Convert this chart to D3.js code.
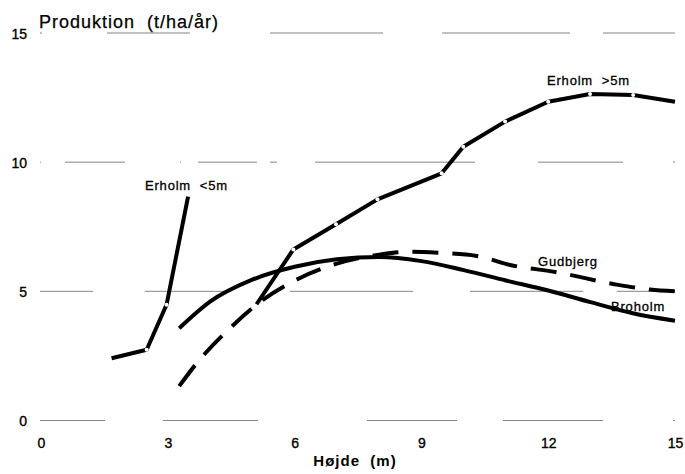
<!DOCTYPE html>
<html>
<head>
<meta charset="utf-8">
<script src="https://cdn.jsdelivr.net/npm/d3@7"></script>
<style>
  body { margin: 0; background: #fff; }
  text { font-family: "Liberation Sans", Arial, sans-serif; fill: #000; }
</style>
</head>
<body>
<div id="chart"></div>
<script>
// values
var xTicks = [0, 3, 6, 9, 12, 15];
var yTicks = [0, 5, 10, 15];

var erholmLow = [
  {h: 1.67, p: 2.41}, {h: 2.50, p: 2.74}, {h: 2.97, p: 4.48}, {h: 3.48, p: 8.67}
];
var erholmHigh = [
  {h: 5.10, p: 4.50}, {h: 5.97, p: 6.62}, {h: 6.98, p: 7.60}, {h: 7.96, p: 8.56},
  {h: 9.48, p: 9.57}, {h: 9.99, p: 10.60}, {h: 10.98, p: 11.57}, {h: 12.00, p: 12.34},
  {h: 12.99, p: 12.64}, {h: 14.01, p: 12.60}, {h: 15.00, p: 12.34}
];
var broholm = [
  {h: 3.27, p: 3.57}, {h: 4.0, p: 4.60}, {h: 5.0, p: 5.45}, {h: 6.0, p: 5.95},
  {h: 7.0, p: 6.24}, {h: 8.0, p: 6.33}, {h: 9.0, p: 6.17}, {h: 10.0, p: 5.82},
  {h: 11.0, p: 5.42}, {h: 12.0, p: 5.03}, {h: 13.0, p: 4.58}, {h: 14.0, p: 4.15},
  {h: 15.0, p: 3.86}
];
var gudbjerg = [
  {h: 3.27, p: 1.33}, {h: 3.68, p: 2.21}, {h: 4.45, p: 3.54}, {h: 5.25, p: 4.67},
  {h: 6.08, p: 5.48}, {h: 6.96, p: 6.05}, {h: 8.0, p: 6.42}, {h: 8.7, p: 6.53},
  {h: 9.39, p: 6.49}, {h: 10.31, p: 6.37}, {h: 11.1, p: 6.02}, {h: 12.2, p: 5.74},
  {h: 13.62, p: 5.26}, {h: 14.41, p: 5.07}, {h: 15.0, p: 5.0}
];

var max_w = 685;
var max_h = 474;

var x = d3.scaleLinear().domain([0, 15]).range([41, 675]);
var y = d3.scaleLinear().domain([0, 15]).range([420.5, 33]);

var svg = d3.select("#chart")
            .append("svg")
              .attr("width", max_w)
              .attr("height", max_h);

// broken, faded gridlines like the printed original
var gridDash = {
  0: "65,58,95,109,90,46,100,70,2,10",
  5: "53,52,82,63,123,57,113,34,58,10",
  10: "1,24,60,55,1,17,59,13,7,38,160,63,85,50,2,10",
  15: "2,65,83,80,113,59,128,33,72,10"
};

svg.append("g")
   .selectAll("line")
   .data(yTicks)
   .join("line")
     .attr("x1", x(0) - 1)
     .attr("x2", x(15) + 1)
     .attr("y1", d => y(d))
     .attr("y2", d => y(d))
     .attr("stroke", "#666")
     .attr("stroke-width", 0.8)
     .attr("stroke-dasharray", d => gridDash[d]);

// axis labels only, no domain or ticks
var yAxis = svg.append("g")
   .attr("transform", "translate(" + x(0) + ",0)")
   .call(d3.axisLeft(y).tickValues(yTicks).tickSize(0).tickPadding(14));
yAxis.select(".domain").remove();
yAxis.selectAll("text")
     .attr("font-family", "Liberation Sans, Arial, sans-serif")
     .attr("font-size", 14)
     .attr("stroke", "black")
     .attr("stroke-width", 0.35)
     .attr("dy", "0.36em");

var xAxis = svg.append("g")
   .attr("transform", "translate(0," + y(0) + ")")
   .call(d3.axisBottom(x).tickValues(xTicks).tickSize(0));
xAxis.select(".domain").remove();
xAxis.selectAll("text")
     .attr("font-family", "Liberation Sans, Arial, sans-serif")
     .attr("font-size", 14)
     .attr("stroke", "black")
     .attr("stroke-width", 0.35)
     .attr("y", 27.5)
     .attr("dy", 0);

svg.append("text")
   .attr("x", 39)
   .attr("y", 28)
   .attr("font-size", 18)
   .attr("letter-spacing", 1)
   .attr("stroke", "black")
   .attr("stroke-width", 0.25)
   .attr("xml:space", "preserve")
   .text("Produktion  (t/ha/år)");

svg.append("text")
   .attr("x", 355)
   .attr("y", 466)
   .attr("text-anchor", "middle")
   .attr("font-size", 15)
   .attr("font-weight", "bold")
   .attr("letter-spacing", 1)
   .attr("xml:space", "preserve")
   .text("Højde  (m)");

var lineLin = d3.line().x(d => x(d.h)).y(d => y(d.p));
var lineSmooth = d3.line().x(d => x(d.h)).y(d => y(d.p)).curve(d3.curveMonotoneX);

svg.append("path")
   .datum(broholm)
   .attr("fill", "none")
   .attr("stroke", "black")
   .attr("stroke-width", 4)
   .attr("d", lineSmooth);

svg.append("path")
   .datum(gudbjerg)
   .attr("fill", "none")
   .attr("stroke", "black")
   .attr("stroke-width", 4)
   .attr("stroke-dasharray", "26,14")
   .attr("d", lineSmooth);

[erholmLow, erholmHigh].forEach(function(s){
  svg.append("path")
     .datum(s)
     .attr("fill", "none")
     .attr("stroke", "black")
     .attr("stroke-width", 4)
     .attr("stroke-linejoin", "round")
     .attr("d", lineLin);
  // the measured points show up as small white nicks in the line
  svg.append("g")
     .selectAll("circle")
     .data(s.slice(1, -1))
     .join("circle")
       .attr("cx", d => x(d.h))
       .attr("cy", d => y(d.p))
       .attr("r", 2)
       .attr("fill", "white");
});

var labels = [
  {t: "Erholm  <5m", x: 145, y: 190},
  {t: "Erholm  >5m", x: 547, y: 85},
  {t: "Gudbjerg", x: 538, y: 266},
  {t: "Broholm", x: 611, y: 311}
];
svg.append("g")
   .selectAll("text")
   .data(labels)
   .join("text")
     .attr("x", d => d.x)
     .attr("y", d => d.y)
     .attr("font-size", 13)
     .attr("letter-spacing", 0.8)
     .attr("stroke", "black")
     .attr("stroke-width", 0.3)
     .attr("xml:space", "preserve")
     .text(d => d.t);
</script>
</body>
</html>
